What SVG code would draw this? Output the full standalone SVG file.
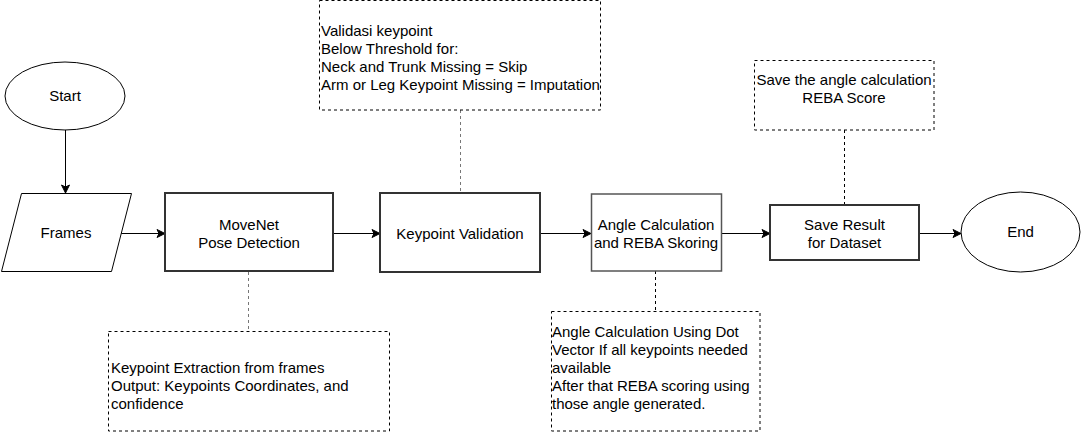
<svg xmlns="http://www.w3.org/2000/svg" width="1081" height="441" viewBox="0 0 1081 441">
<defs>
<marker id="arr" viewBox="0 0 10 10" refX="9" refY="5" markerWidth="10" markerHeight="10" markerUnits="userSpaceOnUse" orient="auto">
<path d="M1,1 L9,5 L1,9 L3,5 Z" fill="#000" stroke="#000" stroke-width="1"/>
</marker>
</defs>
<style>
text{font-family:"Liberation Sans",Arial,Helvetica,sans-serif;font-size:15px;fill:#000}
.c{text-anchor:middle}
.shape{fill:#fff;stroke:#000;stroke-width:1}
.thick{fill:#fff;stroke:#333;stroke-width:2}
.thin{fill:#fff;stroke:#555;stroke-width:1.5}
.note{fill:none;stroke:#000;stroke-width:1;stroke-dasharray:3 3}
.edge{fill:none;stroke:#000;stroke-width:1;marker-end:url(#arr)}
.dash{fill:none;stroke:#777;stroke-width:1;stroke-dasharray:3 3}
.dashk{fill:none;stroke:#000;stroke-width:1;stroke-dasharray:3 3}
</style>
<rect width="1081" height="441" fill="#fff"/>
<g id="connectors">
<line class="edge" x1="65.5" y1="130" x2="65.5" y2="193"/>
<line class="edge" x1="121" y1="233.5" x2="165" y2="233.5"/>
<line class="edge" x1="333" y1="233.5" x2="380" y2="233.5"/>
<line class="edge" x1="540" y1="233.5" x2="591" y2="233.5"/>
<line class="edge" x1="721" y1="233.5" x2="770" y2="233.5"/>
<line class="edge" x1="919" y1="233.5" x2="961" y2="233.5"/>
<line class="dash" x1="248.5" y1="272" x2="248.5" y2="331"/>
<line class="dash" x1="460.5" y1="110" x2="460.5" y2="193"/>
<line class="dashk" x1="655.5" y1="271" x2="655.5" y2="311"/>
<line class="dashk" x1="844.5" y1="130" x2="844.5" y2="205"/>
</g>
<g id="start">
<ellipse class="shape" cx="65" cy="96" rx="60" ry="34"/>
<text class="c" x="65" y="101">Start</text>
</g>
<g id="frames">
<polygon class="shape" points="21.5,193.5 131.5,193.5 111.5,271.5 1.5,271.5"/>
<text class="c" x="66" y="238">Frames</text>
</g>
<g id="movenet">
<rect class="thick" x="165" y="193" width="168" height="78"/>
<text class="c" x="249" y="230">MoveNet</text>
<text class="c" x="249" y="248">Pose Detection</text>
</g>
<g id="validation">
<rect class="thick" x="380" y="193" width="160" height="79"/>
<text class="c" x="460" y="239">Keypoint Validation</text>
</g>
<g id="angle">
<rect class="thin" x="591.5" y="194" width="130" height="77"/>
<text class="c" x="656" y="230">Angle Calculation</text>
<text class="c" x="656" y="248">and REBA Skoring</text>
</g>
<g id="save">
<rect class="thick" x="770" y="205" width="149" height="55"/>
<text class="c" x="844.5" y="230">Save Result</text>
<text class="c" x="844.5" y="248">for Dataset</text>
</g>
<g id="end">
<ellipse class="shape" cx="1020.5" cy="232" rx="59.5" ry="40"/>
<text class="c" x="1020.5" y="237">End</text>
</g>
<g id="note-validasi">
<rect class="note" x="319.5" y="0.5" width="281" height="109.5"/>
<text x="321" y="36">Validasi keypoint</text>
<text x="321" y="54">Below Threshold for:</text>
<text x="321" y="72">Neck and Trunk Missing = Skip</text>
<text x="321" y="90">Arm or Leg Keypoint Missing = Imputation</text>
</g>
<g id="note-extraction">
<rect class="note" x="108.5" y="331.5" width="281" height="99.5"/>
<text x="111" y="373">Keypoint Extraction from frames</text>
<text x="111" y="391">Output: Keypoints Coordinates, and</text>
<text x="111" y="409">confidence</text>
</g>
<g id="note-angle">
<rect class="note" x="551.5" y="311.5" width="208.5" height="119.5"/>
<text x="552" y="337">Angle Calculation Using Dot</text>
<text x="552" y="355">Vector If all keypoints needed</text>
<text x="552" y="373">available</text>
<text x="552" y="391">After that REBA scoring using</text>
<text x="552" y="409">those angle generated.</text>
</g>
<g id="note-save">
<rect class="note" x="754.5" y="60.5" width="179.5" height="69.5"/>
<text class="c" x="844" y="85">Save the angle calculation</text>
<text class="c" x="844" y="103">REBA Score</text>
</g>
</svg>
